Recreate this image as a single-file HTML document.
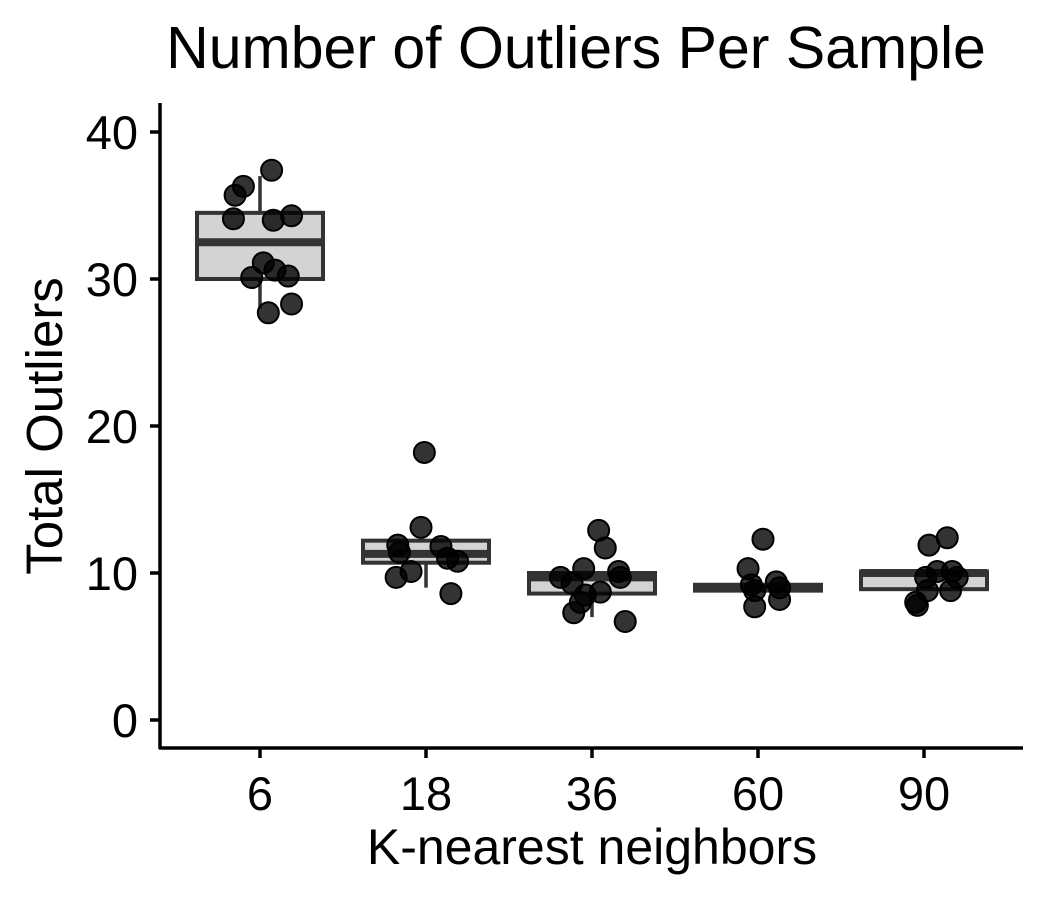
<!DOCTYPE html>
<html><head><meta charset="utf-8"><style>
body{margin:0;background:#fff}
svg{display:block;font-family:"Liberation Sans",sans-serif}
</style></head><body>
<svg id="c" width="1050" height="900"></svg>
<script>
const categories=["6","18","36","60","90"];
const boxQ1=[30,10.7,8.6,8.8,8.9];
const boxMed=[32.5,11.3,9.7,9.0,10.0];
const boxQ3=[34.5,12.2,10.0,9.2,10.1];
const whiskLo=[28,9,7,8.8,8.9];
const whiskHi=[37,12.2,10.0,9.2,10.1];
const pts6=[37.4,36.3,35.7,34.1,34.0,34.3,31.1,30.1,30.6,30.2,27.7,28.3];
const jit6=[0.07,-0.1,-0.15,-0.16,0.08,0.19,0.02,-0.05,0.09,0.17,0.05,0.19];
const pts18=[18.2,13.1,11.9,11.4,11.8,11.0,10.8,9.7,10.1,8.6];
const jit18=[-0.01,-0.03,-0.17,-0.16,0.09,0.13,0.19,-0.18,-0.09,0.15];
const pts36=[12.9,11.7,9.7,10.3,9.3,10.1,9.7,8.7,8.5,8.0,7.3,6.7];
const jit36=[0.04,0.08,-0.19,-0.05,-0.12,0.16,0.17,0.05,-0.04,-0.07,-0.11,0.2];
const pts60=[12.3,10.3,9.2,8.8,9.4,9.0,7.7,8.2];
const jit60=[0.03,-0.06,-0.04,-0.02,0.11,0.13,-0.02,0.13];
const pts90=[11.9,12.4,9.7,10.1,10.1,9.7,8.8,8.8,8.0,7.8];
const jit90=[0.03,0.14,0.01,0.08,0.17,0.2,0.02,0.16,-0.05,-0.04];
const points=[pts6,pts18,pts36,pts60,pts90];
const jitters=[jit6,jit18,jit36,jit60,jit90];
const yTicks=[0,10,20,30,40];

const svg=document.getElementById('c');
const NS='http://www.w3.org/2000/svg';
const y=v=>720-v*14.7;
const x=i=>260+i*166;
const BW=126;
function mk(tag,attrs,parent){const e=document.createElementNS(NS,tag);for(const k in attrs)e.setAttribute(k,attrs[k]);(parent||svg).appendChild(e);return e;}

let t=mk('text',{x:576,y:68,'text-anchor':'middle','font-size':59,fill:'#000'});t.textContent='Number of Outliers Per Sample';



t=mk('text',{x:592,y:864,'text-anchor':'middle','font-size':50,fill:'#000'});t.textContent='K-nearest neighbors';


t=mk('text',{x:0,y:0,'text-anchor':'middle','font-size':51,fill:'#000',transform:'translate(62,426) rotate(-90)'});t.textContent='Total Outliers';



let a=mk('line',{x1:160,y1:103,x2:160,y2:749,stroke:'#000','stroke-width':3.5});


a=mk('line',{x1:159,y1:748,x2:1023,y2:748,stroke:'#000','stroke-width':3.5});



yTicks.forEach(v=>{
  const l=mk('line',{x1:150,x2:160,y1:y(v),y2:y(v),stroke:'#000','stroke-width':3.5});
  
  
  const tx=mk('text',{x:138,y:y(v)+17,'text-anchor':'end','font-size':47,fill:'#000'});tx.textContent=v;
  
  
});
categories.forEach((c,i)=>{
  const l=mk('line',{x1:x(i),x2:x(i),y1:748,y2:758,stroke:'#000','stroke-width':3.5});
  
  
  const tx=mk('text',{x:x(i),y:810,'text-anchor':'middle','font-size':47,fill:'#000'});tx.textContent=c;
  
  
});

categories.forEach((c,i)=>{
  const g=mk('g',{});
  
  
  mk('line',{x1:x(i),x2:x(i),y1:y(whiskHi[i]),y2:y(boxQ3[i]),stroke:'#333','stroke-width':3.5},g);
  mk('line',{x1:x(i),x2:x(i),y1:y(boxQ1[i]),y2:y(whiskLo[i]),stroke:'#333','stroke-width':3.5},g);
  mk('rect',{x:x(i)-BW/2,y:y(boxQ3[i]),width:BW,height:Math.max(y(boxQ1[i])-y(boxQ3[i]),1),fill:'#d3d3d3',stroke:'#333','stroke-width':4},g);
  mk('line',{x1:x(i)-BW/2,x2:x(i)+BW/2,y1:y(boxMed[i]),y2:y(boxMed[i]),stroke:'#333','stroke-width':8},g);
});
points.forEach((arr,i)=>{
  arr.forEach((v,j)=>{
    const p=mk('circle',{cx:x(i)+jitters[i][j]*166,cy:y(v),r:10.5,fill:'rgba(0,0,0,0.8)',stroke:'#000','stroke-width':2});
    
    
  });
});
</script>
</body></html>
